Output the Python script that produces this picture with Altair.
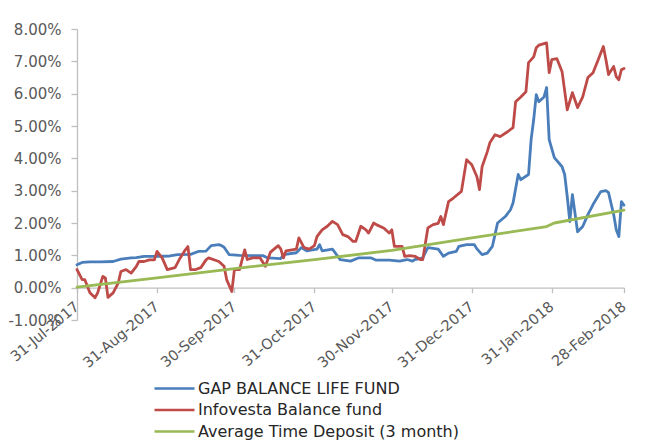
import altair as alt
import pandas as pd

SERIES = ["GAP BALANCE LIFE FUND", "Infovesta Balance fund", " Average Time Deposit (3 month)"]
COLORS = ["#4A7EBB", "#BE4B48", "#98B954"]

gap_dates = ["2017-07-31","2017-08-02","2017-08-05","2017-08-09","2017-08-14","2017-08-17","2017-08-21","2017-08-23",
             "2017-08-26","2017-08-31","2017-09-05","2017-09-08","2017-09-13","2017-09-16","2017-09-19","2017-09-21",
             "2017-09-24","2017-09-25","2017-09-26","2017-09-28","2017-10-02","2017-10-11","2017-10-13","2017-10-18",
             "2017-10-19","2017-10-24","2017-10-26","2017-10-28","2017-11-01","2017-11-02","2017-11-03","2017-11-07",
             "2017-11-10","2017-11-14","2017-11-17","2017-11-22","2017-11-24","2017-11-29","2017-12-03","2017-12-06",
             "2017-12-08","2017-12-09","2017-12-12","2017-12-13","2017-12-14","2017-12-18","2017-12-20","2017-12-22",
             "2017-12-25","2017-12-26","2017-12-29","2018-01-01","2018-01-02","2018-01-04","2018-01-06","2018-01-08",
             "2018-01-09","2018-01-10","2018-01-13","2018-01-15","2018-01-16","2018-01-18","2018-01-19","2018-01-22",
             "2018-01-23","2018-01-24","2018-01-25","2018-01-26","2018-01-28","2018-01-29","2018-01-30","2018-02-01",
             "2018-02-04","2018-02-05","2018-02-06","2018-02-07","2018-02-08","2018-02-10","2018-02-12","2018-02-14",
             "2018-02-16","2018-02-19","2018-02-21","2018-02-22","2018-02-24","2018-02-25","2018-02-26","2018-02-27",
             "2018-02-28"]
gap_vals = [0.71,0.78,0.80,0.80,0.81,0.88,0.92,0.93,
            0.97,0.97,0.98,1.02,1.03,1.12,1.13,1.30,
            1.33,1.30,1.25,1.02,1.00,0.99,0.92,0.90,
            1.02,1.08,1.24,1.14,1.19,1.33,1.14,1.19,
            0.87,0.82,0.92,0.92,0.85,0.85,0.82,0.87,
            0.82,0.87,0.92,1.08,1.24,1.19,0.97,1.07,
            1.12,1.28,1.33,1.33,1.20,1.02,1.07,1.28,
            1.64,2.00,2.20,2.41,2.62,3.50,3.34,3.50,
            4.58,5.20,5.97,5.75,5.90,6.19,4.58,4.02,
            3.74,3.50,2.82,2.04,2.88,1.73,1.89,2.26,
            2.57,2.97,3.00,2.94,2.26,1.79,1.58,2.66,
            2.55]

inf_dates = ["2017-07-31","2017-08-02","2017-08-03","2017-08-05","2017-08-07","2017-08-08","2017-08-10","2017-08-11",
             "2017-08-12","2017-08-14","2017-08-16","2017-08-17","2017-08-19","2017-08-21","2017-08-23","2017-08-24",
             "2017-08-26","2017-08-28","2017-08-30","2017-08-31","2017-09-02","2017-09-04","2017-09-07","2017-09-09",
             "2017-09-11","2017-09-12","2017-09-13","2017-09-15","2017-09-17","2017-09-19","2017-09-20","2017-09-24",
             "2017-09-26","2017-09-27","2017-09-29","2017-09-30","2017-10-02","2017-10-04","2017-10-05","2017-10-07",
             "2017-10-10","2017-10-12","2017-10-14","2017-10-17","2017-10-18","2017-10-19","2017-10-20","2017-10-24",
             "2017-10-25","2017-10-27","2017-10-29","2017-10-31","2017-11-01","2017-11-03","2017-11-05","2017-11-07",
             "2017-11-09","2017-11-11","2017-11-13","2017-11-15","2017-11-16","2017-11-18","2017-11-20","2017-11-21",
             "2017-11-23","2017-11-24","2017-11-27","2017-11-29","2017-11-30","2017-12-01","2017-12-03","2017-12-04",
             "2017-12-05","2017-12-07","2017-12-09","2017-12-11","2017-12-12","2017-12-14","2017-12-16","2017-12-18",
             "2017-12-19","2017-12-20","2017-12-22","2017-12-24","2017-12-27","2017-12-29","2017-12-31","2018-01-02",
             "2018-01-03","2018-01-04","2018-01-06","2018-01-07","2018-01-09","2018-01-11","2018-01-14","2018-01-16",
             "2018-01-17","2018-01-19","2018-01-21","2018-01-22","2018-01-24","2018-01-25","2018-01-26","2018-01-29",
             "2018-01-30","2018-01-31","2018-02-02","2018-02-04","2018-02-06","2018-02-08","2018-02-10","2018-02-12",
             "2018-02-14","2018-02-16","2018-02-18","2018-02-20","2018-02-21","2018-02-22","2018-02-24","2018-02-25",
             "2018-02-26","2018-02-27","2018-02-28"]
inf_vals = [0.56,0.25,0.25,-0.16,-0.31,-0.16,0.35,0.30,
            -0.30,-0.16,0.15,0.50,0.56,0.45,0.66,0.81,
            0.81,0.86,0.86,1.12,0.92,0.56,0.62,0.92,
            1.17,1.27,0.56,0.56,0.62,0.86,0.92,0.81,
            0.66,0.25,-0.12,0.56,0.56,1.17,0.87,0.92,
            0.92,0.66,1.10,1.30,1.19,0.92,1.14,1.19,
            1.54,1.24,1.19,1.30,1.58,1.79,1.90,2.05,
            1.95,1.64,1.58,1.43,1.43,1.90,1.79,1.69,
            2.00,1.95,1.84,1.69,1.79,1.28,1.28,1.28,
            0.97,0.99,0.97,0.87,0.87,1.85,1.95,1.99,
            2.20,1.95,2.66,2.78,2.98,3.96,3.80,3.43,
            3.03,3.74,4.20,4.48,4.73,4.67,4.83,4.95,
            5.75,5.90,6.06,6.96,7.14,7.42,7.50,7.57,
            6.65,7.05,7.08,6.68,5.50,6.03,5.57,5.90,
            6.50,6.65,7.05,7.46,7.05,6.59,6.84,6.53,
            6.43,6.74,6.78]

dep_dates = ["2017-07-31","2017-08-31","2017-09-30","2017-10-31","2017-11-30","2017-12-31","2018-01-29","2018-02-01","2018-02-28"]
dep_vals = [0.02,0.30,0.59,0.87,1.15,1.54,1.89,2.00,2.40]

Y_TICKS = [-1, 0, 1, 2, 3, 4, 5, 6, 7, 8]
X_TICKS = [(2017, 7, 31), (2017, 8, 31), (2017, 9, 30), (2017, 10, 31),
           (2017, 11, 30), (2017, 12, 31), (2018, 1, 31), (2018, 2, 28)]

frames = []
for name, d, v in [(SERIES[0], gap_dates, gap_vals), (SERIES[1], inf_dates, inf_vals), (SERIES[2], dep_dates, dep_vals)]:
    frames.append(pd.DataFrame({"date": pd.to_datetime(d), "value": v, "series": name}))
df = pd.concat(frames, ignore_index=True)

FONT = "DejaVu Sans"
W, H = 547, 291

chart = alt.Chart(df).mark_line(strokeWidth=2.8, strokeJoin="round", strokeCap="round").encode(
    x=alt.X("date:T",
            scale=alt.Scale(domain=[alt.DateTime(year=2017, month=7, date=31), alt.DateTime(year=2018, month=2, date=28)]),
            axis=alt.Axis(title=None, values=[alt.DateTime(year=y, month=m, date=dd) for y, m, dd in X_TICKS],
                          format="%d-%b-%Y", labelAngle=320, labelAlign="right", labelBaseline="middle",
                          labelPadding=12, tickSize=5, offset=-H / 9.0, labelOverlap=False, labelFlush=False,
                          labelBound=False, grid=False, labelFontSize=14.5)),
    y=alt.Y("value:Q", scale=alt.Scale(domain=[-1, 8], nice=False, zero=False),
            axis=alt.Axis(title=None, values=Y_TICKS, tickSize=6, labelPadding=10, grid=False,
                          labelOverlap=False, labelFlush=False, labelBound=False, labelFontSize=15,
                          labelExpr="(datum.value < 0 ? '-' : '') + format(abs(datum.value), '.2f') + '%'")),
    color=alt.Color("series:N", sort=SERIES,
                    scale=alt.Scale(domain=SERIES, range=COLORS),
                    legend=alt.Legend(title=None, orient="none", legendX=76, legendY=349.5, direction="vertical",
                                      symbolType="stroke", symbolSize=1600, symbolStrokeWidth=2.5,
                                      clipHeight=20, rowPadding=1.5, labelOffset=2, padding=0,
                                      labelFont=FONT, labelFontSize=16, labelColor="#262626", labelLimit=400)),
    order=alt.Order("date:T"),
).properties(
    width=W, height=H,
    padding={"left": 69, "top": 21, "right": 25, "bottom": 121},
    autosize=alt.AutoSizeParams(type="none"),
).configure_view(stroke=None).configure_axis(
    labelFont=FONT, labelColor="#595959",
    domainColor="#BFBFBF", tickColor="#BFBFBF", domainWidth=1.3, tickWidth=1.3,
)

chart.save("out.html", embed_options={"renderer": "svg", "actions": False})
